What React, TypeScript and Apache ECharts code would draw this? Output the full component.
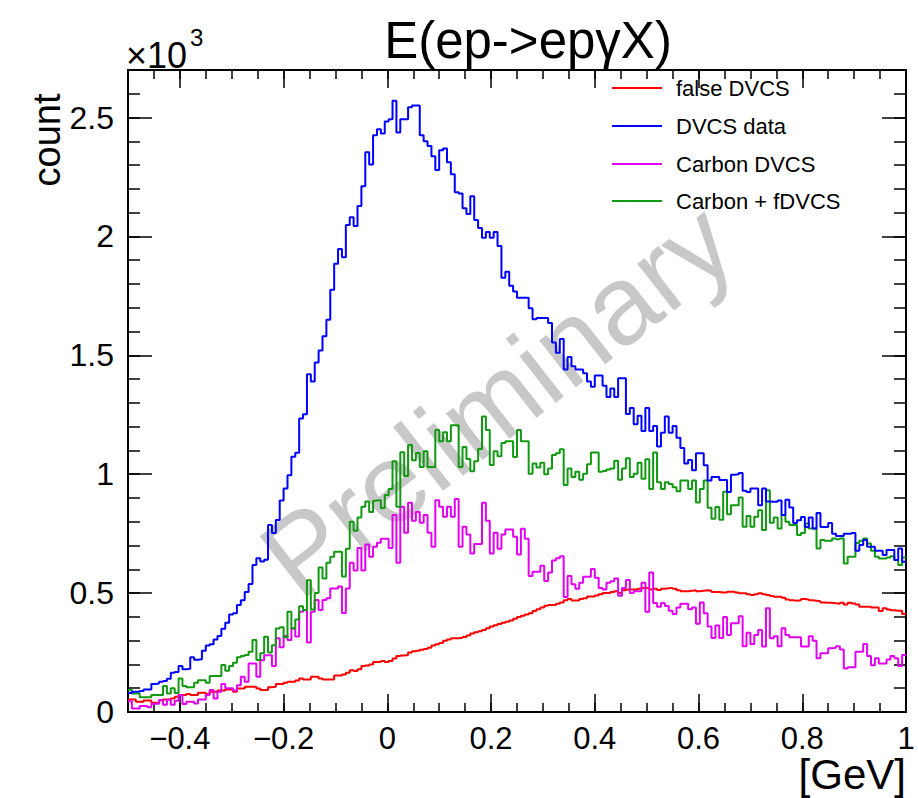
import React, { useEffect, useRef } from "react";
import * as echarts from "echarts";

// Histogram range (GeV) and values in units of 10^3 counts, one per bin (200 bins)
const X_MIN = -0.5;
const X_MAX = 1.0;

const falseDVCS = [
  0.053, 0.053, 0.043, 0.043, 0.048, 0.048, 0.039, 0.039, 0.048, 0.053,
  0.053, 0.057, 0.064, 0.071, 0.071, 0.076, 0.071, 0.071, 0.081, 0.081,
  0.076, 0.085, 0.085, 0.09, 0.09, 0.095, 0.095, 0.085, 0.099, 0.099,
  0.106, 0.106, 0.106, 0.099, 0.092, 0.092, 0.104, 0.106, 0.118, 0.118,
  0.123, 0.127, 0.127, 0.132, 0.141, 0.137, 0.137, 0.148, 0.148, 0.141,
  0.137, 0.137, 0.137, 0.154, 0.154, 0.158, 0.165, 0.176, 0.172, 0.18,
  0.193, 0.196, 0.2, 0.21, 0.21, 0.214, 0.21, 0.214, 0.225, 0.235,
  0.238, 0.24, 0.25, 0.255, 0.258, 0.262, 0.265, 0.27, 0.28, 0.285,
  0.29, 0.3, 0.305, 0.31, 0.31, 0.312, 0.315, 0.322, 0.33, 0.335,
  0.34, 0.345, 0.352, 0.36, 0.365, 0.37, 0.375, 0.38, 0.385, 0.392,
  0.4, 0.405, 0.41, 0.415, 0.425, 0.432, 0.44, 0.447, 0.45, 0.45,
  0.455, 0.46, 0.47, 0.475, 0.469, 0.469, 0.475, 0.478, 0.486, 0.486,
  0.49, 0.495, 0.5, 0.5, 0.505, 0.508, 0.5, 0.512, 0.515, 0.515,
  0.515, 0.518, 0.522, 0.52, 0.515, 0.518, 0.513, 0.518, 0.52, 0.522,
  0.518, 0.512, 0.508, 0.508, 0.51, 0.512, 0.508, 0.51, 0.512, 0.51,
  0.505, 0.505, 0.503, 0.503, 0.506, 0.506, 0.503, 0.499, 0.499, 0.495,
  0.492, 0.495, 0.499, 0.495, 0.492, 0.488, 0.485, 0.485, 0.48, 0.473,
  0.47, 0.468, 0.47, 0.475, 0.473, 0.47, 0.468, 0.466, 0.46, 0.459,
  0.459, 0.457, 0.455, 0.459, 0.452, 0.459, 0.456, 0.452, 0.443, 0.443,
  0.443, 0.44, 0.44, 0.425, 0.436, 0.431, 0.428, 0.426, 0.426, 0.412,
];

const dvcsData = [
  0.08, 0.085, 0.085, 0.088, 0.095, 0.095, 0.118, 0.12, 0.127, 0.13,
  0.14, 0.165, 0.168, 0.193, 0.18, 0.182, 0.23, 0.22, 0.222, 0.258,
  0.28, 0.285, 0.305, 0.32, 0.35, 0.375, 0.41, 0.415, 0.45, 0.47,
  0.505, 0.538, 0.618, 0.647, 0.633, 0.64, 0.786, 0.753, 0.807, 0.89,
  0.94, 0.996, 1.073, 1.09, 1.234, 1.252, 1.42, 1.39, 1.47, 1.52,
  1.58, 1.65, 1.776, 1.885, 1.947, 1.913, 2.048, 2.081, 2.044, 2.128,
  2.211, 2.354, 2.303, 2.426, 2.451, 2.433, 2.483, 2.493, 2.571, 2.437,
  2.493, 2.493, 2.543, 2.551, 2.551, 2.426, 2.4, 2.38, 2.337, 2.279,
  2.362, 2.37, 2.312, 2.262, 2.186, 2.181, 2.119, 2.094, 2.169, 2.069,
  2.036, 1.994, 2.019, 1.994, 2.019, 1.96, 1.826, 1.851, 1.793, 1.768,
  1.742, 1.742, 1.742, 1.698, 1.652, 1.657, 1.657, 1.657, 1.636, 1.554,
  1.511, 1.569, 1.44, 1.493, 1.454, 1.44, 1.44, 1.425, 1.39, 1.368,
  1.415, 1.415, 1.372, 1.325, 1.361, 1.325, 1.404, 1.404, 1.253, 1.278,
  1.21, 1.246, 1.182, 1.278, 1.182, 1.203, 1.117, 1.174, 1.243, 1.174,
  1.203, 1.153, 1.11, 1.045, 1.06, 1.017, 1.088, 1.088, 1.038, 0.974,
  0.988, 0.988, 0.976, 0.976, 0.925, 0.998, 1.0, 1.005, 0.93, 0.925,
  0.94, 0.94, 0.87, 0.94, 0.885, 0.884, 0.884, 0.89, 0.828, 0.893,
  0.86, 0.795, 0.806, 0.82, 0.778, 0.818, 0.772, 0.837, 0.778, 0.778,
  0.795, 0.75, 0.74, 0.74, 0.75, 0.75, 0.753, 0.678, 0.702, 0.723,
  0.695, 0.695, 0.678, 0.678, 0.66, 0.681, 0.681, 0.639, 0.688, 0.632,
];

const carbonDVCS = [
  0.045, 0.015, 0.015, 0.025, 0.025, 0.02, 0.035, 0.035, 0.05, 0.03,
  0.052, 0.03, 0.047, 0.071, 0.034, 0.043, 0.043, 0.036, 0.053, 0.053,
  0.071, 0.092, 0.057, 0.085, 0.118, 0.1, 0.1, 0.09, 0.113, 0.148,
  0.127, 0.204, 0.204, 0.148, 0.218, 0.239, 0.239, 0.193, 0.31, 0.272,
  0.32, 0.303, 0.352, 0.317, 0.422, 0.429, 0.292, 0.422, 0.471, 0.429,
  0.471, 0.478, 0.519, 0.519, 0.528, 0.416, 0.519, 0.628, 0.595, 0.69,
  0.595, 0.704, 0.653, 0.695, 0.712, 0.729, 0.729, 0.69, 0.829, 0.628,
  0.863, 0.754, 0.88, 0.804, 0.841, 0.796, 0.829, 0.754, 0.695, 0.891,
  0.863, 0.821, 0.863, 0.821, 0.896, 0.695, 0.779, 0.746, 0.667, 0.707,
  0.707, 0.88, 0.804, 0.667, 0.754, 0.687, 0.746, 0.767, 0.767, 0.737,
  0.662, 0.771, 0.729, 0.572, 0.59, 0.59, 0.615, 0.551, 0.587, 0.637,
  0.647, 0.655, 0.484, 0.572, 0.537, 0.518, 0.544, 0.569, 0.569, 0.601,
  0.565, 0.522, 0.515, 0.544, 0.55, 0.561, 0.489, 0.522, 0.555, 0.5,
  0.508, 0.508, 0.544, 0.422, 0.587, 0.458, 0.443, 0.458, 0.446, 0.426,
  0.412, 0.44, 0.455, 0.455, 0.432, 0.44, 0.371, 0.46, 0.415, 0.36,
  0.311, 0.364, 0.311, 0.4, 0.324, 0.373, 0.373, 0.403, 0.277, 0.333,
  0.286, 0.324, 0.345, 0.275, 0.436, 0.31, 0.319, 0.277, 0.352, 0.324,
  0.314, 0.314, 0.314, 0.275, 0.275, 0.319, 0.3, 0.226, 0.247, 0.247,
  0.268, 0.27, 0.277, 0.263, 0.183, 0.188, 0.188, 0.253, 0.253, 0.286,
  0.235, 0.197, 0.226, 0.204, 0.204, 0.221, 0.235, 0.226, 0.193, 0.24,
];

const carbonPlusFDVCS = [
  0.092, 0.078, 0.078, 0.062, 0.062, 0.062, 0.071, 0.071, 0.071, 0.109,
  0.078, 0.1, 0.08, 0.141, 0.109, 0.104, 0.104, 0.123, 0.134, 0.134,
  0.123, 0.151, 0.151, 0.151, 0.198, 0.174, 0.193, 0.207, 0.23, 0.235,
  0.24, 0.253, 0.303, 0.219, 0.247, 0.316, 0.25, 0.281, 0.351, 0.356,
  0.314, 0.422, 0.351, 0.389, 0.445, 0.428, 0.554, 0.431, 0.5, 0.608,
  0.561, 0.628, 0.653, 0.674, 0.674, 0.57, 0.687, 0.8, 0.762, 0.818,
  0.863, 0.885, 0.841, 0.888, 0.891, 0.858, 0.913, 0.938, 1.055, 0.863,
  1.092, 0.992, 1.123, 1.059, 1.089, 1.03, 1.097, 1.03, 1.03, 1.186,
  1.139, 1.176, 1.139, 1.206, 1.206, 1.03, 1.114, 1.064, 1.013, 1.055,
  1.106, 1.243, 1.186, 1.039, 1.097, 1.076, 1.131, 1.139, 1.139, 1.072,
  1.186, 1.139, 1.139, 1.002, 1.045, 1.028, 1.048, 1.0, 1.024, 1.081,
  1.088, 1.105, 0.955, 1.024, 0.988, 1.01, 0.977, 1.002, 1.042, 1.091,
  1.091, 1.01, 1.014, 1.02, 1.024, 1.057, 0.977, 1.024, 1.067, 0.988,
  1.002, 1.048, 0.981, 1.063, 0.938, 1.091, 0.966, 0.938, 0.966, 0.959,
  0.945, 0.928, 0.974, 0.974, 0.938, 0.974, 0.881, 0.938, 0.974, 0.859,
  0.813, 0.862, 0.809, 0.926, 0.832, 0.87, 0.87, 0.902, 0.779, 0.824,
  0.779, 0.821, 0.849, 0.765, 0.933, 0.796, 0.818, 0.772, 0.828, 0.8,
  0.786, 0.786, 0.744, 0.753, 0.793, 0.772, 0.772, 0.688, 0.723, 0.72,
  0.72, 0.73, 0.726, 0.73, 0.625, 0.653, 0.653, 0.711, 0.72, 0.73,
  0.709, 0.678, 0.653, 0.646, 0.646, 0.65, 0.655, 0.639, 0.618, 0.65,
];

const xMajorTicks = [-0.4, -0.2, 0, 0.2, 0.4, 0.6, 0.8, 1];
const yMajorTicks = [0, 0.5, 1, 1.5, 2, 2.5];
const Y_MAX = 2.7;

const legendNames = ["false DVCS", "DVCS data", "Carbon DVCS", "Carbon + fDVCS"];
const seriesColors = ["#ff0000", "#0000ff", "#e100f0", "#119911"];

const FONT = "'Liberation Sans', Arial, Helvetica, sans-serif";

function minorList(lo: number, hi: number, step: number): number[] {
  const out: number[] = [];
  const n = Math.round((hi - lo) / step);
  for (let i = 0; i <= n; i++) out.push(Number((lo + i * step).toFixed(4)));
  return out;
}

function toSteps(vals: number[]): number[][] {
  const w = (X_MAX - X_MIN) / vals.length;
  const pts = vals.map((v, i) => [X_MIN + i * w, v]);
  pts.push([X_MAX, vals[vals.length - 1]]);
  return pts;
}

export default function App() {
  const ref = useRef<HTMLDivElement>(null);

  useEffect(() => {
    if (!ref.current) return;
    const chart = echarts.init(ref.current, null, { renderer: "svg" });

    const xMinor = minorList(X_MIN, X_MAX, 0.05);
    const yMinor = minorList(0, 2.6, 0.1);
    const frameLine = { show: true, onZero: false, lineStyle: { color: "#000", width: 2 } };
    const noLine = { show: false, onZero: false };
    const tickStyle = { color: "#000", width: 1.5 };

    const xBase = { type: "value", min: X_MIN, max: X_MAX, splitLine: { show: false }, offset: 0 };
    const yBase = { type: "value", min: 0, max: Y_MAX, splitLine: { show: false }, offset: 0 };

    const xFmt = (v: number) => (v < 0 ? "\u2212" + Math.abs(v) : String(v));

    const allSeries = [falseDVCS, dvcsData, carbonDVCS, carbonPlusFDVCS];

    const legendGraphics: any[] = [];
    const legendRowsY = [88, 126, 164, 201];
    legendNames.forEach((name, i) => {
      legendGraphics.push({
        type: "line",
        shape: { x1: 612, y1: legendRowsY[i], x2: 662, y2: legendRowsY[i] },
        style: { stroke: seriesColors[i], lineWidth: 2 },
        z: 10,
      });
      legendGraphics.push({
        type: "text",
        x: 676,
        y: legendRowsY[i],
        style: {
          text: name,
          fill: "#000",
          font: `22px ${FONT}`,
          textAlign: "left",
          textVerticalAlign: "middle",
        },
        z: 10,
      });
    });

    chart.setOption({
      animation: false,
      backgroundColor: "#fff",
      grid: { left: 128, right: 12, top: 70, bottom: 86, containLabel: false },
      xAxis: [
        {
          ...xBase,
          position: "bottom",
          axisLine: frameLine,
          axisTick: { show: true, inside: true, length: 18, customValues: xMajorTicks, lineStyle: tickStyle },
          axisLabel: {
            show: true,
            customValues: xMajorTicks,
            formatter: xFmt,
            color: "#000",
            fontSize: 31,
            fontFamily: FONT,
            margin: 11,
          },
        },
        {
          ...xBase,
          position: "bottom",
          axisLine: noLine,
          axisTick: { show: true, inside: true, length: 9, customValues: xMinor, lineStyle: tickStyle },
          axisLabel: { show: false },
        },
        {
          ...xBase,
          position: "top",
          axisLine: frameLine,
          axisTick: { show: true, inside: true, length: 18, customValues: xMajorTicks, lineStyle: tickStyle },
          axisLabel: { show: false },
        },
        {
          ...xBase,
          position: "top",
          axisLine: noLine,
          axisTick: { show: true, inside: true, length: 9, customValues: xMinor, lineStyle: tickStyle },
          axisLabel: { show: false },
        },
      ],
      yAxis: [
        {
          ...yBase,
          position: "left",
          axisLine: frameLine,
          axisTick: { show: true, inside: true, length: 24, customValues: yMajorTicks, lineStyle: tickStyle },
          axisLabel: {
            show: true,
            customValues: yMajorTicks,
            formatter: (v: number) => String(v),
            color: "#000",
            fontSize: 32,
            fontFamily: FONT,
            margin: 14,
          },
        },
        {
          ...yBase,
          position: "left",
          axisLine: noLine,
          axisTick: { show: true, inside: true, length: 12, customValues: yMinor, lineStyle: tickStyle },
          axisLabel: { show: false },
        },
        {
          ...yBase,
          position: "right",
          axisLine: frameLine,
          axisTick: { show: true, inside: true, length: 24, customValues: yMajorTicks, lineStyle: tickStyle },
          axisLabel: { show: false },
        },
        {
          ...yBase,
          position: "right",
          axisLine: noLine,
          axisTick: { show: true, inside: true, length: 12, customValues: yMinor, lineStyle: tickStyle },
          axisLabel: { show: false },
        },
      ],
      series: allSeries.map((vals, i) => ({
        name: legendNames[i],
        type: "line",
        step: "end",
        xAxisIndex: 0,
        yAxisIndex: 0,
        data: toSteps(vals),
        showSymbol: false,
        symbol: "none",
        lineStyle: { color: seriesColors[i], width: 2 },
        itemStyle: { color: seriesColors[i] },
        z: 3 + (i === 1 ? 1 : 0),
        silent: true,
      })),
      graphic: [
        {
          type: "text",
          x: 497,
          y: 400,
          rotation: (38 * Math.PI) / 180,
          style: {
            text: "Preliminary",
            fill: "#c8c8c8",
            font: `112px ${FONT}`,
            textAlign: "center",
            textVerticalAlign: "middle",
          },
          z: 0,
          silent: true,
        },
        {
          type: "text",
          x: 528,
          y: 40,
          style: {
            text: "E(ep->ep\u03b3X)",
            fill: "#000",
            font: `51px ${FONT}`,
            textAlign: "center",
            textVerticalAlign: "middle",
          },
          z: 10,
        },
        {
          type: "text",
          x: 126,
          y: 55,
          style: {
            text: "\u00d710",
            fill: "#000",
            font: `36px ${FONT}`,
            textAlign: "left",
            textVerticalAlign: "middle",
          },
          z: 10,
        },
        {
          type: "text",
          x: 190,
          y: 37,
          style: {
            text: "3",
            fill: "#000",
            font: `24px ${FONT}`,
            textAlign: "left",
            textVerticalAlign: "middle",
          },
          z: 10,
        },
        {
          type: "text",
          x: 47,
          y: 140,
          rotation: Math.PI / 2,
          style: {
            text: "count",
            fill: "#000",
            font: `38px ${FONT}`,
            textAlign: "center",
            textVerticalAlign: "middle",
          },
          z: 10,
        },
        {
          type: "text",
          x: 906,
          y: 774,
          style: {
            text: "[GeV]",
            fill: "#000",
            font: `42px ${FONT}`,
            textAlign: "right",
            textVerticalAlign: "middle",
          },
          z: 10,
        },
        ...legendGraphics,
      ],
    });

    return () => chart.dispose();
  }, []);

  return (
    <div
      ref={ref}
      style={{ position: "fixed", left: 0, top: 0, width: 918, height: 798, background: "#fff" }}
    />
  );
}
